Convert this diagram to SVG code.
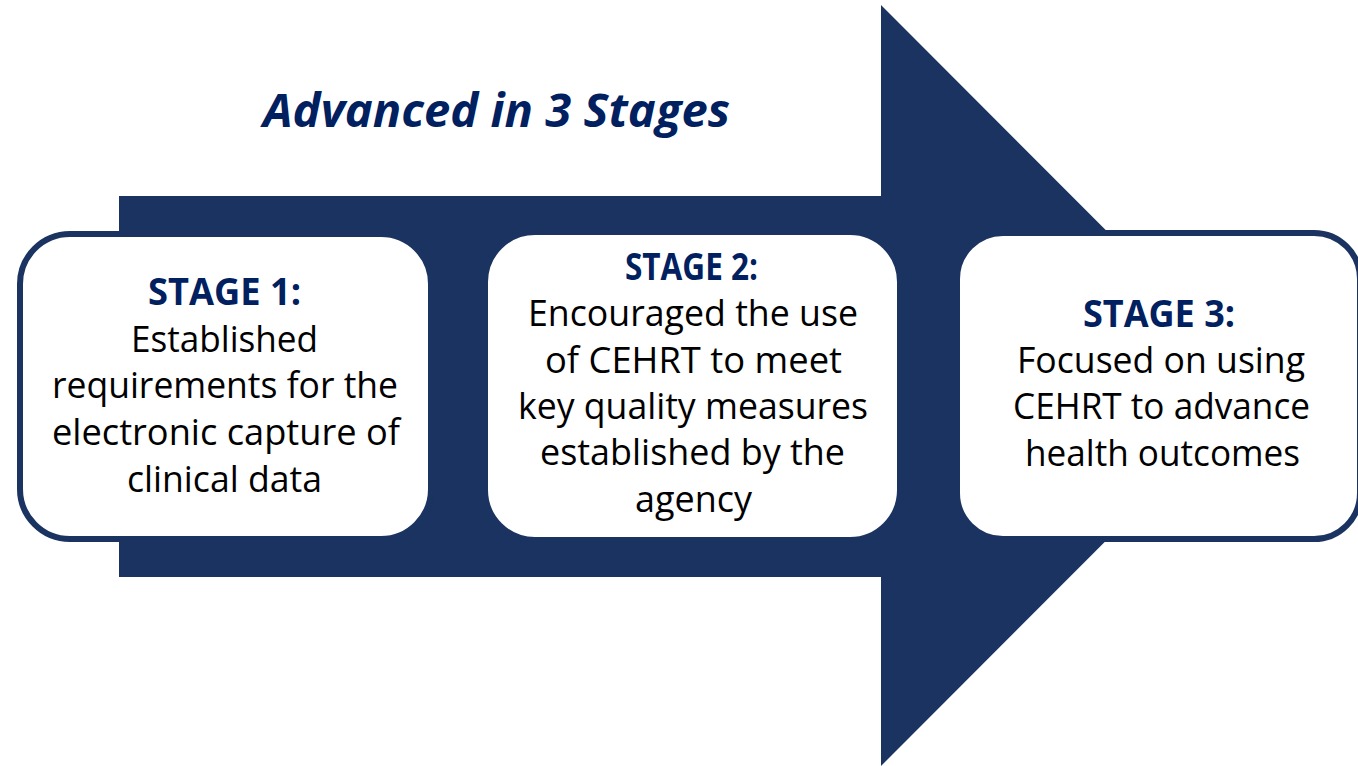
<svg xmlns="http://www.w3.org/2000/svg" width="1358" height="766" viewBox="0 0 1358 766">
  <style>
    .arrow { fill: #1B3360; }
    .card { fill: #FFFFFF; stroke: #1B3360; stroke-width: 6; }
    .title { font-family: "Open Sans", "Noto Sans", sans-serif; font-size: 47px; font-weight: bold; font-style: italic; fill: #002060; }
    .head { font-family: "Open Sans", "Noto Sans", sans-serif; font-size: 37px; font-weight: bold; fill: #002060; }
    .body { font-family: "Open Sans", "Noto Sans", sans-serif; font-size: 36px; fill: #000000; }
  </style>
  <rect width="1358" height="766" fill="#FFFFFF"/>

  <text class="title" x="263" y="127" textLength="467" lengthAdjust="spacingAndGlyphs">Advanced in 3 Stages</text>

  <!-- Big progress arrow behind the stage cards -->
  <g id="connectors">
    <path class="arrow" d="M119 196 H881 V5 L1261 385.5 L881 766 V577 H119 Z"/>
  </g>

  <g id="stage1">
    <rect class="card" x="20" y="234" width="411" height="305" rx="50"/>
    <text class="head" x="148" y="305" textLength="153" lengthAdjust="spacingAndGlyphs">STAGE 1:</text>
    <text class="body" x="131" y="352" textLength="187" lengthAdjust="spacingAndGlyphs">Established</text>
    <text class="body" x="52" y="398" textLength="346" lengthAdjust="spacingAndGlyphs">requirements for the</text>
    <text class="body" x="52" y="445" textLength="348" lengthAdjust="spacingAndGlyphs">electronic capture of</text>
    <text class="body" x="127" y="492" textLength="195" lengthAdjust="spacingAndGlyphs">clinical data</text>
  </g>

  <g id="stage2">
    <rect class="card" x="485" y="232" width="415" height="308" rx="50"/>
    <text class="head" x="625" y="280" textLength="133" lengthAdjust="spacingAndGlyphs">STAGE 2:</text>
    <text class="body" x="528" y="326" textLength="330" lengthAdjust="spacingAndGlyphs">Encouraged the use</text>
    <text class="body" x="545" y="373" textLength="297" lengthAdjust="spacingAndGlyphs">of CEHRT to meet</text>
    <text class="body" x="518" y="419" textLength="350" lengthAdjust="spacingAndGlyphs">key quality measures</text>
    <text class="body" x="540" y="465" textLength="305" lengthAdjust="spacingAndGlyphs">established by the</text>
    <text class="body" x="635" y="512" textLength="117" lengthAdjust="spacingAndGlyphs">agency</text>
  </g>

  <g id="stage3">
    <rect class="card" x="957" y="233" width="403" height="306" rx="46"/>
    <text class="head" x="1083" y="327" textLength="152" lengthAdjust="spacingAndGlyphs">STAGE 3:</text>
    <text class="body" x="1017" y="373" textLength="288" lengthAdjust="spacingAndGlyphs">Focused on using</text>
    <text class="body" x="1013" y="419" textLength="297" lengthAdjust="spacingAndGlyphs">CEHRT to advance</text>
    <text class="body" x="1025" y="466" textLength="275" lengthAdjust="spacingAndGlyphs">health outcomes</text>
  </g>
</svg>
